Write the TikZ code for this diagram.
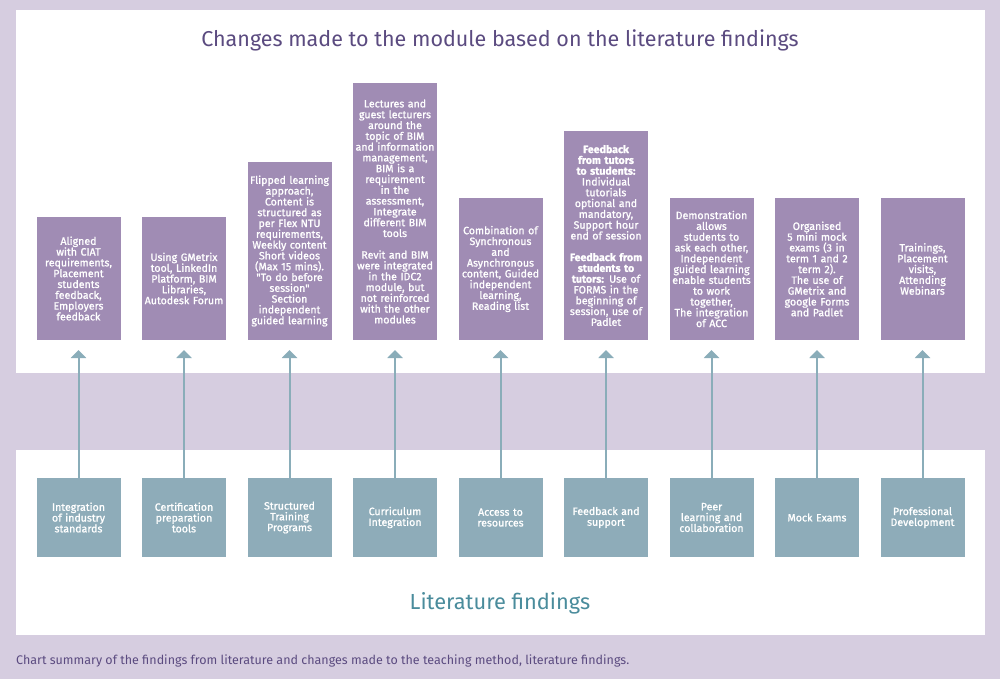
\documentclass[tikz,border=0pt]{standalone}
\usepackage{fontspec}
\setmainfont{Fira Sans}
\newfontfamily\boxfont{Fira Sans}[FakeBold=1.2]
\usepackage{xcolor}
\usetikzlibrary{arrows.meta, positioning}

\definecolor{pagebg}{HTML}{D6CDE0}
\definecolor{changefill}{HTML}{A08CB4}
\definecolor{findfill}{HTML}{8EACB9}
\definecolor{arrowline}{HTML}{8AADB9}
\definecolor{titlepurple}{HTML}{5B4B80}
\definecolor{titleteal}{HTML}{4A8C9C}

\begin{document}
\begin{tikzpicture}[
  x=1pt, y=-1pt,
  node distance=21.5pt,
  every node/.style={font=\boxfont\fontsize{10.6}{10.8}\selectfont},
  changebox/.style={rectangle, fill=changefill, text=white, align=center, text width=84pt, inner xsep=0pt, inner ysep=2pt, outer sep=0pt},
  findbox/.style={changebox, fill=findfill, minimum height=79pt},
  arr/.style={-{Triangle[width=15pt, length=8pt]}, line width=2pt, draw=arrowline, fill=arrowline, shorten >=10pt}
]
  % panels
  \useasboundingbox (0,0) rectangle (1000,679);
  \fill[pagebg] (0,0) rectangle (1000,679);
  \fill[white] (16,10) rectangle (985,373);
  \fill[white] (16,450) rectangle (985,635);

  \node[font=\fontsize{21.5}{25}\selectfont, text=titlepurple] (toptitle) at (500,40) {Changes made to the module based on the literature findings};
  \node[font=\fontsize{21.8}{25}\selectfont, text=titleteal] (bottitle) at (500,603) {Literature findings};
  \node[font=\fontsize{12.5}{15}\selectfont, text=titlepurple, anchor=west, inner xsep=0pt] (caption) at (16,661) {Chart summary of the findings from literature and changes made to the teaching method, literature findings.};

  % literature findings
  \node[findbox] (f1) at (78.5,517.5) {Integration\\of industry\\standards};
  \node[findbox, right=of f1] (f2) {Certification\\preparation\\tools};
  \node[findbox, right=of f2] (f3) {Structured\\Training\\Programs};
  \node[findbox, right=of f3] (f4) {Curriculum\\Integration};
  \node[findbox, right=of f4] (f5) {Access to\\resources};
  \node[findbox, right=of f5] (f6) {Feedback and\\support};
  \node[findbox, right=of f6] (f7) {Peer\\learning and\\collaboration};
  \node[findbox, right=of f7] (f8) {Mock Exams};
  \node[findbox, right=of f8] (f9) {Professional\\Development};

  % changes to the module
  \node[changebox, minimum height=123pt, above=138pt of f1] (c1) {Aligned\\with CIAT\\requirements,\\Placement\\students\\feedback,\\Employers\\feedback};
  \node[changebox, minimum height=123pt, above=138pt of f2] (c2) {Using GMetrix\\tool, LinkedIn\\Platform, BIM\\Libraries,\\Autodesk Forum};
  \node[changebox, minimum height=178pt, above=138pt of f3] (c3) {Flipped learning\\approach,\\Content is\\structured as\\per Flex NTU\\requirements,\\Weekly content\\Short videos\\(Max 15 mins).\\"To do before\\session"\\Section\\independent\\guided learning};
  \node[changebox, minimum height=257pt, above=138pt of f4] (c4) {Lectures and\\guest lecturers\\around the\\topic of BIM\\and information\\management,\\BIM is a\\requirement\\in the\\assessment,\\Integrate\\different BIM\\tools\\[10.8pt]Revit and BIM\\were integrated\\in the IDC2\\module, but\\not reinforced\\with the other\\modules};
  \node[changebox, minimum height=142pt, above=138pt of f5] (c5) {Combination of\\Synchronous\\and\\Asynchronous\\content, Guided\\independent\\learning,\\Reading list};
  \node[changebox, minimum height=209pt, above=138pt of f6] (c6) {{\bfseries Feedback}\\{\bfseries from tutors}\\{\bfseries to students:}\\Individual\\tutorials\\optional and\\mandatory,\\Support hour\\end of session\\[10.8pt]{\bfseries Feedback from}\\{\bfseries students to}\\{\bfseries tutors:} Use of\\FORMS in the\\beginning of\\session, use of\\Padlet};
  \node[changebox, minimum height=142pt, above=138pt of f7] (c7) {Demonstration\\allows\\students to\\ask each other,\\Independent\\guided learning\\enable students\\to work\\together,\\The integration\\of ACC};
  \node[changebox, minimum height=142pt, above=138pt of f8] (c8) {Organised\\5 mini mock\\exams (3 in\\term 1 and 2\\term 2).\\The use of\\GMetrix and\\google Forms\\and Padlet};
  \node[changebox, minimum height=142pt, above=138pt of f9] (c9) {Trainings,\\Placement\\visits,\\Attending\\Webinars};

  \draw[arr] (f1) -- (c1);
  \draw[arr] (f2) -- (c2);
  \draw[arr] (f3) -- (c3);
  \draw[arr] (f4) -- (c4);
  \draw[arr] (f5) -- (c5);
  \draw[arr] (f6) -- (c6);
  \draw[arr] (f7) -- (c7);
  \draw[arr] (f8) -- (c8);
  \draw[arr] (f9) -- (c9);
\end{tikzpicture}
\end{document}
